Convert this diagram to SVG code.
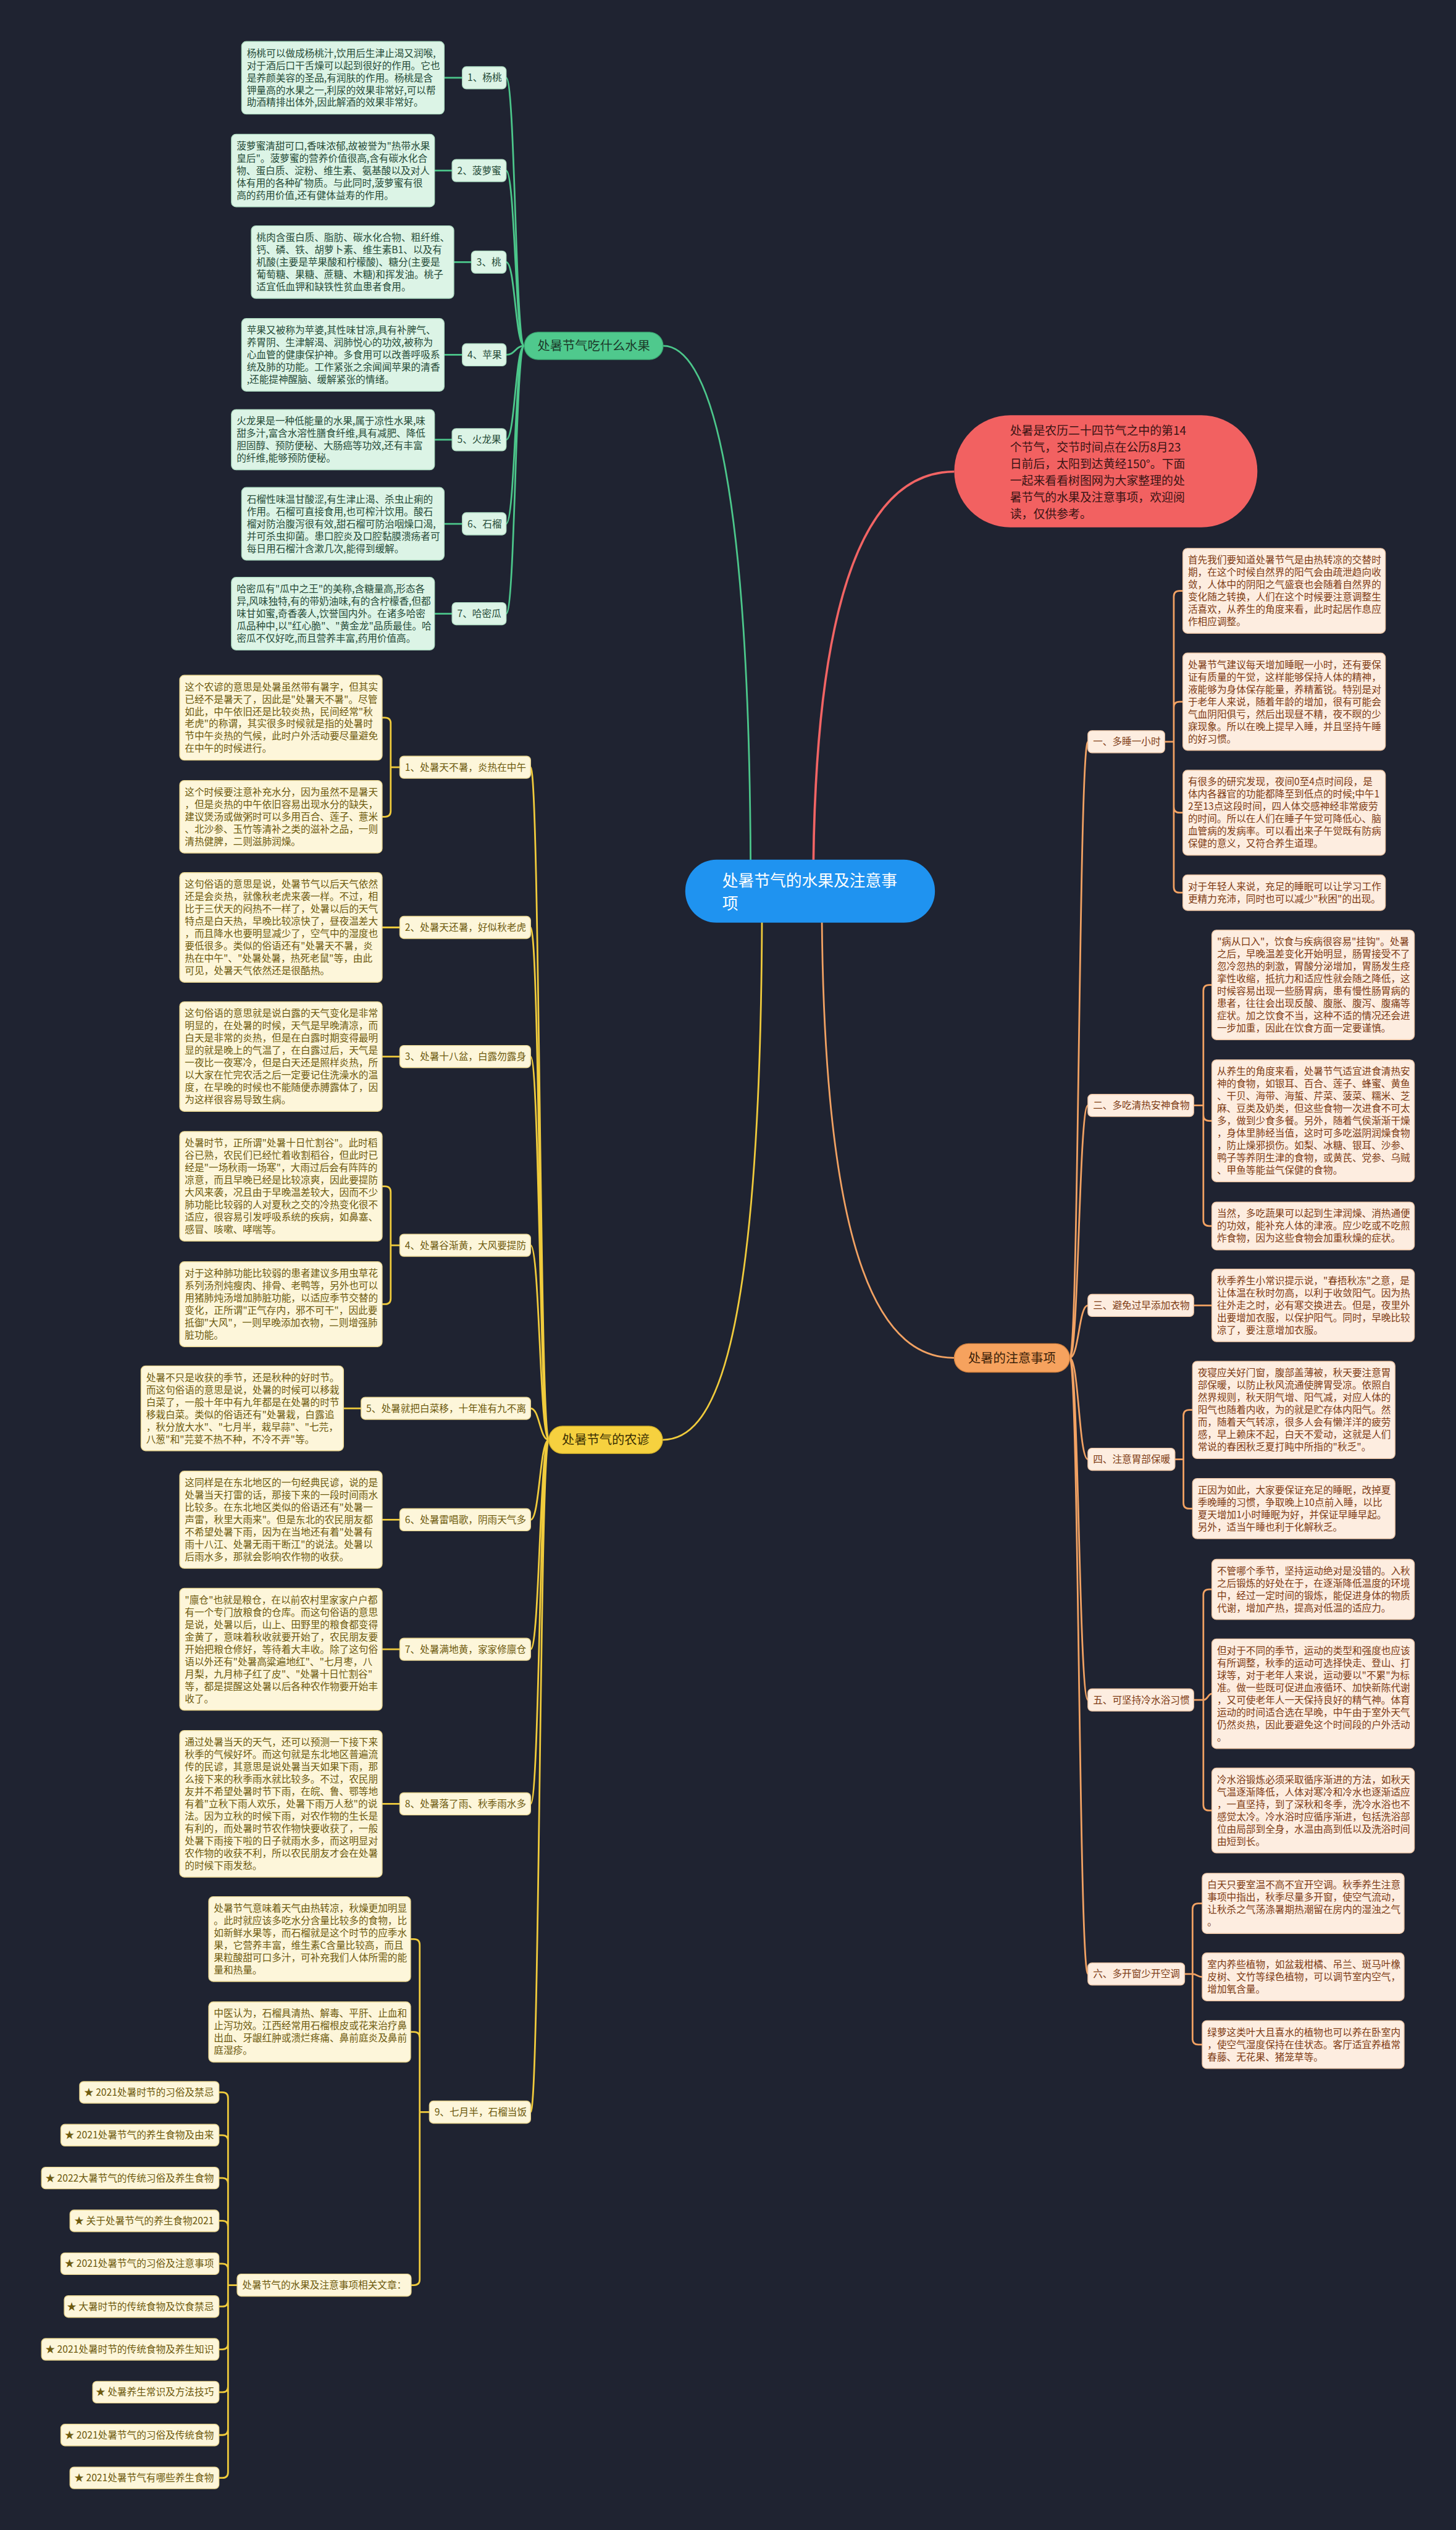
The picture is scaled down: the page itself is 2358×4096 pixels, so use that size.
<svg xmlns="http://www.w3.org/2000/svg" width="2358" height="4096" viewBox="0 0 2358 4096">
<style>
.t{font-family:"Noto Sans CJK SC","Noto Sans",sans-serif;font-size:17px}
.gb{fill:#dcf4e6;stroke:#b3e0c6;stroke-width:1.5}
.gt{fill:#264b38}
.yb{fill:#fdf6da;stroke:#e9d690;stroke-width:1.5}
.yt{fill:#6d5a0e}
.ob{fill:#fdede0;stroke:#efc7a6;stroke-width:1.5}
.ot{fill:#7d3b14}
.gc{fill:none;stroke:#4cc78b;stroke-width:3}
.yc{fill:none;stroke:#f0cb3c;stroke-width:3}
.oc{fill:none;stroke:#f2a263;stroke-width:3}
.rc{fill:none;stroke:#f26464;stroke-width:4}
.main{font-family:"Noto Sans CJK SC","Noto Sans",sans-serif;font-size:22px}
</style>
<rect width="2358" height="4096" fill="#1f2331"/>
<g transform="scale(0.921)">
<g id="connectors">
<path class="gc" stroke-width="4" d="M1320,1566 C1320,800 1240,608 1166,608"/>
<path class="rc" d="M1430,1566 C1430,1000 1540,829 1678,829"/>
<path class="oc" stroke-width="4" d="M1445,1566 C1445,2250 1560,2387 1678,2387"/>
<path class="yc" stroke-width="4" d="M1340,1566 C1340,2400 1250,2531 1165,2531"/>
<path class="gc" d="M922,608 C906,608 906,136.75 890,136.75 M922,608 C906,608 906,299.75 890,299.75 M922,608 C906,608 906,460.75 890,460.75 M922,608 C906,608 906,623.75 890,623.75 M922,608 C906,608 906,772.9 890,772.9 M922,608 C906,608 906,920.75 890,920.75 M922,608 C906,608 906,1078.75 890,1078.75"/>
<path class="gc" d="M781,136.75 H813 M764,299.75 H795 M798,460.75 H829 M781,623.75 H813 M764,772.9 H795 M781,920.75 H813 M764,1078.75 H795"/>
<path class="yc" d="M965,2531 C949,2531 949,1348.7 933,1348.7 M965,2531 C949,2531 949,1630.3 933,1630.3 M965,2531 C949,2531 949,1857.3 933,1857.3 M965,2531 C949,2531 949,2189 933,2189 M965,2531 C949,2531 949,2475.6 933,2475.6 M965,2531 C949,2531 949,2671.5 933,2671.5 M965,2531 C949,2531 949,2899.2 933,2899.2 M965,2531 C949,2531 949,3170.9 933,3170.9 M965,2531 C949,2531 949,3712.8 933,3712.8"/>
<path class="yc" d="M703,1348.7 H687 V1271.6 Q687,1261.6 677,1261.6 H672 M687,1348.7 V1425.75 Q687,1435.75 677,1435.75 H672 M703,1630.3 H672 M703,1857.3 H672 M703,2189 H687 V2095.3 Q687,2085.3 677,2085.3 H672 M687,2189 V2282.6 Q687,2292.6 677,2292.6 H672 M635,2475.6 H604 M703,2671.5 H672 M703,2899.2 H672 M703,3170.9 H672 M755,3712.8 H738 V3418.6 Q738,3408.6 728,3408.6 H722 M738,3712.8 V3581.9 Q738,3571.9 728,3571.9 H722 M738,3712.8 V4006.9 Q738,4016.9 728,4016.9 H723"/>
<path class="yc" d="M417,4016.9 H401 V3688 Q401,3678 391,3678 H385 M401,4016.9 V3763.3 Q401,3753.3 391,3753.3 H385 M401,4016.9 V3838.6 Q401,3828.6 391,3828.6 H385 M401,4016.9 V3913.9 Q401,3903.9 391,3903.9 H385 M401,4016.9 V3989.2 Q401,3979.2 391,3979.2 H385 M401,4016.9 V4044.5 Q401,4054.5 391,4054.5 H385 M401,4016.9 V4119.8 Q401,4129.8 391,4129.8 H385 M401,4016.9 V4195.1 Q401,4205.1 391,4205.1 H385 M401,4016.9 V4270.4 Q401,4280.4 391,4280.4 H385 M401,4016.9 V4345.7 Q401,4355.7 391,4355.7 H385"/>
<path class="oc" d="M1881,2387 C1897,2387 1897,1303.9 1913,1303.9 M1881,2387 C1897,2387 1897,1943.2 1913,1943.2 M1881,2387 C1897,2387 1897,2294.75 1913,2294.75 M1881,2387 C1897,2387 1897,2565.2 1913,2565.2 M1881,2387 C1897,2387 1897,2988.25 1913,2988.25 M1881,2387 C1897,2387 1897,3470 1913,3470"/>
<path class="oc" d="M2048,1303.9 H2064 V1048.6 Q2064,1038.6 2074,1038.6 H2080 M2064,1303.9 V1243.45 Q2064,1233.45 2074,1233.45 H2080 M2064,1303.9 V1418.6 Q2064,1428.6 2074,1428.6 H2080 M2064,1303.9 V1559.2 Q2064,1569.2 2074,1569.2 H2080"/>
<path class="oc" d="M2099,1943.2 H2116 V1741.3 Q2116,1731.3 2126,1731.3 H2131 M2116,1943.2 V1960.15 Q2116,1970.15 2126,1970.15 H2131 M2116,1943.2 V2145.05 Q2116,2155.05 2126,2155.05 H2131"/>
<path class="oc" d="M2099,2294.75 H2131"/>
<path class="oc" d="M2066,2565.2 H2081 V2488.45 Q2081,2478.45 2091,2478.45 H2097 M2081,2565.2 V2641.9 Q2081,2651.9 2091,2651.9 H2097"/>
<path class="oc" d="M2099,2988.25 H2116 V2803.9 Q2116,2793.9 2126,2793.9 H2131 M2116,2988.25 C2124,2988.25 2124,2977.3 2131,2977.3 M2116,2988.25 V3172.6 Q2116,3182.6 2126,3182.6 H2131"/>
<path class="oc" d="M2083,3470 H2097 V3355.9 Q2097,3345.9 2107,3345.9 H2114 M2097,3470 C2105,3470 2105,3475.05 2114,3475.05 M2097,3470 V3584.05 Q2097,3594.05 2107,3594.05 H2114"/>
</g>

<g id="root"><rect x="1205" y="1511" width="439" height="111" rx="55" fill="#1f93f0"/><text class="t" font-size="28" fill="#ffffff" x="1270" y="1558" style="font-size:28px"><tspan x="1270">处暑节气的水果及注意事</tspan><tspan x="1270" dy="40">项</tspan></text></g>

<g id="intro"><rect x="1678" y="730" width="533" height="197" rx="98.5" fill="#f26161"/><text class="t" fill="#3a1414" x="1776" y="764.4" style="font-size:20.5px"><tspan x="1776">处暑是农历二十四节气之中的第14</tspan><tspan x="1776" dy="29.3">个节气，交节时间点在公历8月23</tspan><tspan x="1776" dy="29.3">日前后，太阳到达黄经150°。下面</tspan><tspan x="1776" dy="29.3">一起来看看树图网为大家整理的处</tspan><tspan x="1776" dy="29.3">暑节气的水果及注意事项，欢迎阅</tspan><tspan x="1776" dy="29.3">读，仅供参考。</tspan></text></g>

<!-- GREEN -->
<g id="fruit"><rect x="922" y="584" width="244" height="48" rx="24" fill="#4fc98d" stroke="#3aa872" stroke-width="1.5"/><text class="main" fill="#1b3a2a" x="1044" y="616" text-anchor="middle">处暑节气吃什么水果</text></g>
<g id="g-l1"><rect class="gb" x="813" y="117.25" width="77" height="39" rx="7"/><text class="t gt" x="822" y="142.75">1、杨桃</text></g>
<g id="g-l2"><rect class="gb" x="795" y="280.25" width="95" height="39" rx="7"/><text class="t gt" x="804" y="305.75">2、菠萝蜜</text></g>
<g id="g-l3"><rect class="gb" x="829" y="441.25" width="61" height="39" rx="7"/><text class="t gt" x="838" y="466.75">3、桃</text></g>
<g id="g-l4"><rect class="gb" x="813" y="604.25" width="77" height="39" rx="7"/><text class="t gt" x="822" y="629.75">4、苹果</text></g>
<g id="g-l5"><rect class="gb" x="795" y="753.4" width="95" height="39" rx="7"/><text class="t gt" x="804" y="778.9">5、火龙果</text></g>
<g id="g-l6"><rect class="gb" x="813" y="901.25" width="77" height="39" rx="7"/><text class="t gt" x="822" y="926.75">6、石榴</text></g>
<g id="g-l7"><rect class="gb" x="795" y="1059.25" width="95" height="39" rx="7"/><text class="t gt" x="804" y="1084.75">7、哈密瓜</text></g>
<g id="g-d1"><rect class="gb" x="425" y="73" width="356" height="127.5" rx="8"/><text class="t gt" x="434" y="99.4"><tspan x="434">杨桃可以做成杨桃汁,饮用后生津止渴又润喉,</tspan><tspan x="434" dy="21.7">对于酒后口干舌燥可以起到很好的作用。它也</tspan><tspan x="434" dy="21.7">是养颜美容的圣品,有润肤的作用。杨桃是含</tspan><tspan x="434" dy="21.7">钾量高的水果之一,利尿的效果非常好,可以帮</tspan><tspan x="434" dy="21.7">助酒精排出体外,因此解酒的效果非常好。</tspan></text></g>
<g id="g-d2"><rect class="gb" x="407" y="236" width="357" height="127.5" rx="8"/><text class="t gt" x="416" y="262.4"><tspan x="416">菠萝蜜清甜可口,香味浓郁,故被誉为"热带水果</tspan><tspan x="416" dy="21.7">皇后"。菠萝蜜的营养价值很高,含有碳水化合</tspan><tspan x="416" dy="21.7">物、蛋白质、淀粉、维生素、氨基酸以及对人</tspan><tspan x="416" dy="21.7">体有用的各种矿物质。与此同时,菠萝蜜有很</tspan><tspan x="416" dy="21.7">高的药用价值,还有健体益寿的作用。</tspan></text></g>
<g id="g-d3"><rect class="gb" x="442" y="397" width="356" height="127.5" rx="8"/><text class="t gt" x="451" y="423.4"><tspan x="451">桃肉含蛋白质、脂肪、碳水化合物、粗纤维、</tspan><tspan x="451" dy="21.7">钙、磷、铁、胡萝卜素、维生素B1、以及有</tspan><tspan x="451" dy="21.7">机酸(主要是苹果酸和柠檬酸)、糖分(主要是</tspan><tspan x="451" dy="21.7">葡萄糖、果糖、蔗糖、木糖)和挥发油。桃子</tspan><tspan x="451" dy="21.7">适宜低血钾和缺铁性贫血患者食用。</tspan></text></g>
<g id="g-d4"><rect class="gb" x="425" y="560" width="356" height="127.5" rx="8"/><text class="t gt" x="434" y="586.4"><tspan x="434">苹果又被称为苹婆,其性味甘凉,具有补脾气、</tspan><tspan x="434" dy="21.7">养胃阴、生津解渴、润肺悦心的功效,被称为</tspan><tspan x="434" dy="21.7">心血管的健康保护神。多食用可以改善呼吸系</tspan><tspan x="434" dy="21.7">统及肺的功能。工作紧张之余闻闻苹果的清香</tspan><tspan x="434" dy="21.7">,还能提神醒脑、缓解紧张的情绪。</tspan></text></g>
<g id="g-d5"><rect class="gb" x="407" y="720" width="357" height="105.8" rx="8"/><text class="t gt" x="416" y="746.4"><tspan x="416">火龙果是一种低能量的水果,属于凉性水果,味</tspan><tspan x="416" dy="21.7">甜多汁,富含水溶性膳食纤维,具有减肥、降低</tspan><tspan x="416" dy="21.7">胆固醇、预防便秘、大肠癌等功效,还有丰富</tspan><tspan x="416" dy="21.7">的纤维,能够预防便秘。</tspan></text></g>
<g id="g-d6"><rect class="gb" x="425" y="857" width="356" height="127.5" rx="8"/><text class="t gt" x="434" y="883.4"><tspan x="434">石榴性味温甘酸涩,有生津止渴、杀虫止痢的</tspan><tspan x="434" dy="21.7">作用。石榴可直接食用,也可榨汁饮用。酸石</tspan><tspan x="434" dy="21.7">榴对防治腹泻很有效,甜石榴可防治咽燥口渴,</tspan><tspan x="434" dy="21.7">并可杀虫抑菌。患口腔炎及口腔黏膜溃疡者可</tspan><tspan x="434" dy="21.7">每日用石榴汁含漱几次,能得到缓解。</tspan></text></g>
<g id="g-d7"><rect class="gb" x="407" y="1015" width="357" height="127.5" rx="8"/><text class="t gt" x="416" y="1041.4"><tspan x="416">哈密瓜有"瓜中之王"的美称,含糖量高,形态各</tspan><tspan x="416" dy="21.7">异,风味独特,有的带奶油味,有的含柠檬香,但都</tspan><tspan x="416" dy="21.7">味甘如蜜,奇香袭人,饮誉国内外。在诸多哈密</tspan><tspan x="416" dy="21.7">瓜品种中,以"红心脆"、"黄金龙"品质最佳。哈</tspan><tspan x="416" dy="21.7">密瓜不仅好吃,而且营养丰富,药用价值高。</tspan></text></g>

<!-- YELLOW -->
<g id="proverbs"><rect x="965" y="2507" width="200" height="48" rx="24" fill="#f6d13f" stroke="#d8b52a" stroke-width="1.5"/><text class="main" fill="#3b3003" x="1065" y="2539" text-anchor="middle">处暑节气的农谚</text></g>
<g id="y-l1"><rect class="yb" x="703" y="1329.2" width="230" height="39" rx="7"/><text class="t yt" x="712" y="1354.7">1、处暑天不暑，炎热在中午</text></g>
<g id="y-l2"><rect class="yb" x="703" y="1610.8" width="230" height="39" rx="7"/><text class="t yt" x="712" y="1636.3">2、处暑天还暑，好似秋老虎</text></g>
<g id="y-l3"><rect class="yb" x="703" y="1837.8" width="230" height="39" rx="7"/><text class="t yt" x="712" y="1863.3">3、处暑十八盆，白露勿露身</text></g>
<g id="y-l4"><rect class="yb" x="703" y="2169.5" width="230" height="39" rx="7"/><text class="t yt" x="712" y="2195">4、处暑谷渐黄，大风要提防</text></g>
<g id="y-l5"><rect class="yb" x="635" y="2456.1" width="298" height="39" rx="7"/><text class="t yt" x="644" y="2481.6">5、处暑就把白菜移，十年准有九不离</text></g>
<g id="y-l6"><rect class="yb" x="703" y="2652" width="230" height="39" rx="7"/><text class="t yt" x="712" y="2677.5">6、处暑雷唱歌，阴雨天气多</text></g>
<g id="y-l7"><rect class="yb" x="703" y="2879.7" width="230" height="39" rx="7"/><text class="t yt" x="712" y="2905.2">7、处暑满地黄，家家修廪仓</text></g>
<g id="y-l8"><rect class="yb" x="703" y="3151.4" width="230" height="39" rx="7"/><text class="t yt" x="712" y="3176.9">8、处暑落了雨、秋季雨水多</text></g>
<g id="y-l9"><rect class="yb" x="755" y="3693.3" width="178" height="39" rx="7"/><text class="t yt" x="764" y="3718.8">9、七月半，石榴当饭</text></g>
<g id="y-d1a"><rect class="yb" x="316" y="1187" width="356" height="149.2" rx="8"/><text class="t yt" x="325" y="1213.4"><tspan x="325">这个农谚的意思是处暑虽然带有暑字，但其实</tspan><tspan x="325" dy="21.7">已经不是暑天了，因此是"处暑天不暑"。尽管</tspan><tspan x="325" dy="21.7">如此，中午依旧还是比较炎热，民间经常"秋</tspan><tspan x="325" dy="21.7">老虎"的称谓，其实很多时候就是指的处暑时</tspan><tspan x="325" dy="21.7">节中午炎热的气候，此时户外活动要尽量避免</tspan><tspan x="325" dy="21.7">在中午的时候进行。</tspan></text></g>
<g id="y-d1b"><rect class="yb" x="316" y="1372" width="356" height="127.5" rx="8"/><text class="t yt" x="325" y="1398.4"><tspan x="325">这个时候要注意补充水分，因为虽然不是暑天</tspan><tspan x="325" dy="21.7">，但是炎热的中午依旧容易出现水分的缺失，</tspan><tspan x="325" dy="21.7">建议煲汤或做粥时可以多用百合、莲子、薏米</tspan><tspan x="325" dy="21.7">、北沙参、玉竹等清补之类的滋补之品，一则</tspan><tspan x="325" dy="21.7">清热健脾，二则滋肺润燥。</tspan></text></g>
<g id="y-d2"><rect class="yb" x="316" y="1534" width="356" height="192.6" rx="8"/><text class="t yt" x="325" y="1560.4"><tspan x="325">这句俗语的意思是说，处暑节气以后天气依然</tspan><tspan x="325" dy="21.7">还是会炎热，就像秋老虎来袭一样。不过，相</tspan><tspan x="325" dy="21.7">比于三伏天的闷热不一样了，处暑以后的天气</tspan><tspan x="325" dy="21.7">特点是白天热，早晚比较凉快了，昼夜温差大</tspan><tspan x="325" dy="21.7">，而且降水也要明显减少了，空气中的湿度也</tspan><tspan x="325" dy="21.7">要低很多。类似的俗语还有"处暑天不暑，炎</tspan><tspan x="325" dy="21.7">热在中午"、"处暑处暑，热死老鼠"等，由此</tspan><tspan x="325" dy="21.7">可见，处暑天气依然还是很酷热。</tspan></text></g>
<g id="y-d3"><rect class="yb" x="316" y="1761" width="356" height="192.6" rx="8"/><text class="t yt" x="325" y="1787.4"><tspan x="325">这句俗语的意思就是说白露的天气变化是非常</tspan><tspan x="325" dy="21.7">明显的，在处暑的时候，天气是早晚清凉，而</tspan><tspan x="325" dy="21.7">白天是非常的炎热，但是在白露时期变得最明</tspan><tspan x="325" dy="21.7">显的就是晚上的气温了，在白露过后，天气是</tspan><tspan x="325" dy="21.7">一夜比一夜寒冷，但是白天还是照样炎热，所</tspan><tspan x="325" dy="21.7">以大家在忙完农活之后一定要记住洗澡水的温</tspan><tspan x="325" dy="21.7">度，在早晚的时候也不能随便赤膊露体了，因</tspan><tspan x="325" dy="21.7">为这样很容易导致生病。</tspan></text></g>
<g id="y-d4a"><rect class="yb" x="316" y="1989" width="356" height="192.6" rx="8"/><text class="t yt" x="325" y="2015.4"><tspan x="325">处暑时节，正所谓"处暑十日忙割谷"。此时稻</tspan><tspan x="325" dy="21.7">谷已熟，农民们已经忙着收割稻谷，但此时已</tspan><tspan x="325" dy="21.7">经是"一场秋雨一场寒"，大雨过后会有阵阵的</tspan><tspan x="325" dy="21.7">凉意，而且早晚已经是比较凉爽，因此要提防</tspan><tspan x="325" dy="21.7">大风来袭，况且由于早晚温差较大，因而不少</tspan><tspan x="325" dy="21.7">肺功能比较弱的人对夏秋之交的冷热变化很不</tspan><tspan x="325" dy="21.7">适应，很容易引发呼吸系统的疾病，如鼻塞、</tspan><tspan x="325" dy="21.7">感冒、咳嗽、哮喘等。</tspan></text></g>
<g id="y-d4b"><rect class="yb" x="316" y="2218" width="356" height="149.2" rx="8"/><text class="t yt" x="325" y="2244.4"><tspan x="325">对于这种肺功能比较弱的患者建议多用虫草花</tspan><tspan x="325" dy="21.7">系列汤剂炖瘦肉、排骨、老鸭等，另外也可以</tspan><tspan x="325" dy="21.7">用猪肺炖汤增加肺脏功能，以适应季节交替的</tspan><tspan x="325" dy="21.7">变化，正所谓"正气存内，邪不可干"，因此要</tspan><tspan x="325" dy="21.7">抵御"大风"，一则早晚添加衣物，二则增强肺</tspan><tspan x="325" dy="21.7">脏功能。</tspan></text></g>
<g id="y-d5"><rect class="yb" x="248" y="2401" width="356" height="149.2" rx="8"/><text class="t yt" x="257" y="2427.4"><tspan x="257">处暑不只是收获的季节，还是秋种的好时节。</tspan><tspan x="257" dy="21.7">而这句俗语的意思是说，处暑的时候可以移栽</tspan><tspan x="257" dy="21.7">白菜了，一般十年中有九年都是在处暑的时节</tspan><tspan x="257" dy="21.7">移栽白菜。类似的俗语还有"处暑栽，白露追</tspan><tspan x="257" dy="21.7">，秋分放大水"、"七月半，栽早蒜"、"七芫，</tspan><tspan x="257" dy="21.7">八葱"和"芫荽不热不种，不冷不弄"等。</tspan></text></g>
<g id="y-d6"><rect class="yb" x="316" y="2586" width="356" height="170.9" rx="8"/><text class="t yt" x="325" y="2612.4"><tspan x="325">这同样是在东北地区的一句经典民谚，说的是</tspan><tspan x="325" dy="21.7">处暑当天打雷的话，那接下来的一段时间雨水</tspan><tspan x="325" dy="21.7">比较多。在东北地区类似的俗语还有"处暑一</tspan><tspan x="325" dy="21.7">声雷，秋里大雨来"。但是东北的农民朋友都</tspan><tspan x="325" dy="21.7">不希望处暑下雨，因为在当地还有着"处暑有</tspan><tspan x="325" dy="21.7">雨十八江、处暑无雨干断江"的说法。处暑以</tspan><tspan x="325" dy="21.7">后雨水多，那就会影响农作物的收获。</tspan></text></g>
<g id="y-d7"><rect class="yb" x="316" y="2792" width="356" height="214.3" rx="8"/><text class="t yt" x="325" y="2818.4"><tspan x="325">"廪仓"也就是粮仓，在以前农村里家家户户都</tspan><tspan x="325" dy="21.7">有一个专门放粮食的仓库。而这句俗语的意思</tspan><tspan x="325" dy="21.7">是说，处暑以后，山上、田野里的粮食都变得</tspan><tspan x="325" dy="21.7">金黄了，意味着秋收就要开始了，农民朋友要</tspan><tspan x="325" dy="21.7">开始把粮仓修好，等待着大丰收。除了这句俗</tspan><tspan x="325" dy="21.7">语以外还有"处暑高粱遍地红"、"七月枣，八</tspan><tspan x="325" dy="21.7">月梨，九月柿子红了皮"、"处暑十日忙割谷"</tspan><tspan x="325" dy="21.7">等，都是提醒这处暑以后各种农作物要开始丰</tspan><tspan x="325" dy="21.7">收了。</tspan></text></g>
<g id="y-d8"><rect class="yb" x="316" y="3042" width="356" height="257.7" rx="8"/><text class="t yt" x="325" y="3068.4"><tspan x="325">通过处暑当天的天气，还可以预测一下接下来</tspan><tspan x="325" dy="21.7">秋季的气候好坏。而这句就是东北地区普遍流</tspan><tspan x="325" dy="21.7">传的民谚，其意思是说处暑当天如果下雨，那</tspan><tspan x="325" dy="21.7">么接下来的秋季雨水就比较多。不过，农民朋</tspan><tspan x="325" dy="21.7">友并不希望处暑时节下雨，在皖、鲁、鄂等地</tspan><tspan x="325" dy="21.7">有着"立秋下雨人欢乐，处暑下雨万人愁"的说</tspan><tspan x="325" dy="21.7">法。因为立秋的时候下雨，对农作物的生长是</tspan><tspan x="325" dy="21.7">有利的，而处暑时节农作物快要收获了，一般</tspan><tspan x="325" dy="21.7">处暑下雨接下啦的日子就雨水多，而这明显对</tspan><tspan x="325" dy="21.7">农作物的收获不利，所以农民朋友才会在处暑</tspan><tspan x="325" dy="21.7">的时候下雨发愁。</tspan></text></g>
<g id="y-d9a"><rect class="yb" x="367" y="3334" width="355" height="149.2" rx="8"/><text class="t yt" x="376" y="3360.4"><tspan x="376">处暑节气意味着天气由热转凉，秋燥更加明显</tspan><tspan x="376" dy="21.7">。此时就应该多吃水分含量比较多的食物，比</tspan><tspan x="376" dy="21.7">如新鲜水果等，而石榴就是这个时节的应季水</tspan><tspan x="376" dy="21.7">果，它营养丰富，维生素C含量比较高，而且</tspan><tspan x="376" dy="21.7">果粒酸甜可口多汁，可补充我们人体所需的能</tspan><tspan x="376" dy="21.7">量和热量。</tspan></text></g>
<g id="y-d9b"><rect class="yb" x="367" y="3519" width="355" height="105.8" rx="8"/><text class="t yt" x="376" y="3545.4"><tspan x="376">中医认为，石榴具清热、解毒、平肝、止血和</tspan><tspan x="376" dy="21.7">止泻功效。江西经常用石榴根皮或花来治疗鼻</tspan><tspan x="376" dy="21.7">出血、牙龈红肿或溃烂疼痛、鼻前庭炎及鼻前</tspan><tspan x="376" dy="21.7">庭湿疹。</tspan></text></g>
<g id="related"><rect class="yb" x="417" y="3997.4" width="306" height="39" rx="7"/><text class="t yt" x="426" y="4022.9">处暑节气的水果及注意事项相关文章：</text></g>
<g id="r1"><rect class="yb" x="140" y="3659" width="245" height="38" rx="7"/><text class="t yt" x="376" y="3684" text-anchor="end">★ 2021处暑时节的习俗及禁忌</text></g>
<g id="r2"><rect class="yb" x="107" y="3734.3" width="278" height="38" rx="7"/><text class="t yt" x="376" y="3759.3" text-anchor="end">★ 2021处暑节气的养生食物及由来</text></g>
<g id="r3"><rect class="yb" x="73" y="3809.6" width="312" height="38" rx="7"/><text class="t yt" x="376" y="3834.6" text-anchor="end">★ 2022大暑节气的传统习俗及养生食物</text></g>
<g id="r4"><rect class="yb" x="123" y="3884.9" width="262" height="38" rx="7"/><text class="t yt" x="376" y="3909.9" text-anchor="end">★ 关于处暑节气的养生食物2021</text></g>
<g id="r5"><rect class="yb" x="107" y="3960.2" width="278" height="38" rx="7"/><text class="t yt" x="376" y="3985.2" text-anchor="end">★ 2021处暑节气的习俗及注意事项</text></g>
<g id="r6"><rect class="yb" x="113" y="4035.5" width="272" height="38" rx="7"/><text class="t yt" x="376" y="4060.5" text-anchor="end">★ 大暑时节的传统食物及饮食禁忌</text></g>
<g id="r7"><rect class="yb" x="73" y="4110.8" width="312" height="38" rx="7"/><text class="t yt" x="376" y="4135.8" text-anchor="end">★ 2021处暑时节的传统食物及养生知识</text></g>
<g id="r8"><rect class="yb" x="163" y="4186.1" width="222" height="38" rx="7"/><text class="t yt" x="376" y="4211.1" text-anchor="end">★ 处暑养生常识及方法技巧</text></g>
<g id="r9"><rect class="yb" x="107" y="4261.4" width="278" height="38" rx="7"/><text class="t yt" x="376" y="4286.4" text-anchor="end">★ 2021处暑节气的习俗及传统食物</text></g>
<g id="r10"><rect class="yb" x="123" y="4336.7" width="262" height="38" rx="7"/><text class="t yt" x="376" y="4361.7" text-anchor="end">★ 2021处暑节气有哪些养生食物</text></g>

<!-- ORANGE -->
<g id="notes"><rect x="1678" y="2362" width="203" height="50" rx="25" fill="#f6a25e" stroke="#d8843f" stroke-width="1.5"/><text class="main" fill="#3a1e08" x="1779.5" y="2395" text-anchor="middle">处暑的注意事项</text></g>
<g id="o-l1"><rect class="ob" x="1913" y="1284.4" width="135" height="39" rx="7"/><text class="t ot" x="1922" y="1309.9">一、多睡一小时</text></g>
<g id="o-l2"><rect class="ob" x="1913" y="1923.7" width="186" height="39" rx="7"/><text class="t ot" x="1922" y="1949.2">二、多吃清热安神食物</text></g>
<g id="o-l3"><rect class="ob" x="1913" y="2275.25" width="186" height="39" rx="7"/><text class="t ot" x="1922" y="2300.75">三、避免过早添加衣物</text></g>
<g id="o-l4"><rect class="ob" x="1913" y="2545.7" width="153" height="39" rx="7"/><text class="t ot" x="1922" y="2571.2">四、注意胃部保暖</text></g>
<g id="o-l5"><rect class="ob" x="1913" y="2968.75" width="186" height="39" rx="7"/><text class="t ot" x="1922" y="2994.25">五、可坚持冷水浴习惯</text></g>
<g id="o-l6"><rect class="ob" x="1913" y="3450.5" width="170" height="39" rx="7"/><text class="t ot" x="1922" y="3476">六、多开窗少开空调</text></g>
<g id="o-d1a"><rect class="ob" x="2080" y="964" width="356" height="149.2" rx="8"/><text class="t ot" x="2089" y="990.4"><tspan x="2089">首先我们要知道处暑节气是由热转凉的交替时</tspan><tspan x="2089" dy="21.7">期，在这个时候自然界的阳气会由疏泄趋向收</tspan><tspan x="2089" dy="21.7">敛，人体中的阴阳之气盛衰也会随着自然界的</tspan><tspan x="2089" dy="21.7">变化随之转换，人们在这个时候要注意调整生</tspan><tspan x="2089" dy="21.7">活喜欢，从养生的角度来看，此时起居作息应</tspan><tspan x="2089" dy="21.7">作相应调整。</tspan></text></g>
<g id="o-d1b"><rect class="ob" x="2080" y="1148" width="356" height="170.9" rx="8"/><text class="t ot" x="2089" y="1174.4"><tspan x="2089">处暑节气建议每天增加睡眠一小时，还有要保</tspan><tspan x="2089" dy="21.7">证有质量的午觉，这样能够保持人体的精神，</tspan><tspan x="2089" dy="21.7">液能够为身体保存能量，养精蓄锐。特别是对</tspan><tspan x="2089" dy="21.7">于老年人来说，随着年龄的增加，很有可能会</tspan><tspan x="2089" dy="21.7">气血阴阳俱亏，然后出现昼不精，夜不瞑的少</tspan><tspan x="2089" dy="21.7">寐现象。所以在晚上提早入睡，并且坚持午睡</tspan><tspan x="2089" dy="21.7">的好习惯。</tspan></text></g>
<g id="o-d1c"><rect class="ob" x="2080" y="1354" width="356" height="149.2" rx="8"/><text class="t ot" x="2089" y="1380.4"><tspan x="2089">有很多的研究发现，夜间0至4点时间段，是</tspan><tspan x="2089" dy="21.7">体内各器官的功能都降至到低点的时候;中午1</tspan><tspan x="2089" dy="21.7">2至13点这段时间，四人体交感神经非常疲劳</tspan><tspan x="2089" dy="21.7">的时间。所以在人们在睡子午觉可降低心、脑</tspan><tspan x="2089" dy="21.7">血管病的发病率。可以看出来子午觉既有防病</tspan><tspan x="2089" dy="21.7">保健的意义，又符合养生道理。</tspan></text></g>
<g id="o-d1d"><rect class="ob" x="2080" y="1538" width="356" height="62.4" rx="8"/><text class="t ot" x="2089" y="1564.4"><tspan x="2089">对于年轻人来说，充足的睡眠可以让学习工作</tspan><tspan x="2089" dy="21.7">更精力充沛，同时也可以减少"秋困"的出现。</tspan></text></g>
<g id="o-d2a"><rect class="ob" x="2131" y="1635" width="356" height="192.6" rx="8"/><text class="t ot" x="2140" y="1661.4"><tspan x="2140">"病从口入"，饮食与疾病很容易"挂钩"。处暑</tspan><tspan x="2140" dy="21.7">之后，早晚温差变化开始明显，肠胃接受不了</tspan><tspan x="2140" dy="21.7">忽冷忽热的刺激，胃酸分泌增加，胃肠发生痉</tspan><tspan x="2140" dy="21.7">挛性收缩，抵抗力和适应性就会随之降低，这</tspan><tspan x="2140" dy="21.7">时候容易出现一些肠胃病，患有慢性肠胃病的</tspan><tspan x="2140" dy="21.7">患者，往往会出现反酸、腹胀、腹泻、腹痛等</tspan><tspan x="2140" dy="21.7">症状。加之饮食不当，这种不适的情况还会进</tspan><tspan x="2140" dy="21.7">一步加重，因此在饮食方面一定要谨慎。</tspan></text></g>
<g id="o-d2b"><rect class="ob" x="2131" y="1863" width="356" height="214.3" rx="8"/><text class="t ot" x="2140" y="1889.4"><tspan x="2140">从养生的角度来看，处暑节气适宜进食清热安</tspan><tspan x="2140" dy="21.7">神的食物，如银耳、百合、莲子、蜂蜜、黄鱼</tspan><tspan x="2140" dy="21.7">、干贝、海带、海蜇、芹菜、菠菜、糯米、芝</tspan><tspan x="2140" dy="21.7">麻、豆类及奶类，但这些食物一次进食不可太</tspan><tspan x="2140" dy="21.7">多，做到少食多餐。另外，随着气侯渐渐干燥</tspan><tspan x="2140" dy="21.7">，身体里肺经当值，这时可多吃滋阴润燥食物</tspan><tspan x="2140" dy="21.7">，防止燥邪损伤。如梨、冰糖、银耳、沙参、</tspan><tspan x="2140" dy="21.7">鸭子等养阴生津的食物，或黄芪、党参、乌贼</tspan><tspan x="2140" dy="21.7">、甲鱼等能益气保健的食物。</tspan></text></g>
<g id="o-d2c"><rect class="ob" x="2131" y="2113" width="356" height="84.1" rx="8"/><text class="t ot" x="2140" y="2139.4"><tspan x="2140">当然，多吃蔬果可以起到生津润燥、消热通便</tspan><tspan x="2140" dy="21.7">的功效，能补充人体的津液。应少吃或不吃煎</tspan><tspan x="2140" dy="21.7">炸食物，因为这些食物会加重秋燥的症状。</tspan></text></g>
<g id="o-d3"><rect class="ob" x="2131" y="2231" width="356" height="127.5" rx="8"/><text class="t ot" x="2140" y="2257.4"><tspan x="2140">秋季养生小常识提示说，"春捂秋冻"之意，是</tspan><tspan x="2140" dy="21.7">让体温在秋时勿高，以利于收敛阳气。因为热</tspan><tspan x="2140" dy="21.7">往外走之时，必有寒交换进去。但是，夜里外</tspan><tspan x="2140" dy="21.7">出要增加衣服，以保护阳气。同时，早晚比较</tspan><tspan x="2140" dy="21.7">凉了，要注意增加衣服。</tspan></text></g>
<g id="o-d4a"><rect class="ob" x="2097" y="2393" width="356" height="170.9" rx="8"/><text class="t ot" x="2106" y="2419.4"><tspan x="2106">夜寝应关好门窗，腹部盖薄被，秋天要注意胃</tspan><tspan x="2106" dy="21.7">部保暖，以防止秋风流通使脾胃受凉。依照自</tspan><tspan x="2106" dy="21.7">然界规则，秋天阴气增、阳气减，对应人体的</tspan><tspan x="2106" dy="21.7">阳气也随着内收，为的就是贮存体内阳气。然</tspan><tspan x="2106" dy="21.7">而，随着天气转凉，很多人会有懒洋洋的疲劳</tspan><tspan x="2106" dy="21.7">感，早上赖床不起，白天不爱动，这就是人们</tspan><tspan x="2106" dy="21.7">常说的春困秋乏夏打盹中所指的"秋乏"。</tspan></text></g>
<g id="o-d4b"><rect class="ob" x="2097" y="2599" width="356" height="105.8" rx="8"/><text class="t ot" x="2106" y="2625.4"><tspan x="2106">正因为如此，大家要保证充足的睡眠，改掉夏</tspan><tspan x="2106" dy="21.7">季晚睡的习惯，争取晚上10点前入睡，以比</tspan><tspan x="2106" dy="21.7">夏天增加1小时睡眠为好，并保证早睡早起。</tspan><tspan x="2106" dy="21.7">另外，适当午睡也利于化解秋乏。</tspan></text></g>
<g id="o-d5a"><rect class="ob" x="2131" y="2741" width="356" height="105.8" rx="8"/><text class="t ot" x="2140" y="2767.4"><tspan x="2140">不管哪个季节，坚持运动绝对是没错的。入秋</tspan><tspan x="2140" dy="21.7">之后锻炼的好处在于，在逐渐降低温度的环境</tspan><tspan x="2140" dy="21.7">中，经过一定时间的锻炼，能促进身体的物质</tspan><tspan x="2140" dy="21.7">代谢，增加产热，提高对低温的适应力。</tspan></text></g>
<g id="o-d5b"><rect class="ob" x="2131" y="2881" width="356" height="192.6" rx="8"/><text class="t ot" x="2140" y="2907.4"><tspan x="2140">但对于不同的季节，运动的类型和强度也应该</tspan><tspan x="2140" dy="21.7">有所调整，秋季的运动可选择快走、登山、打</tspan><tspan x="2140" dy="21.7">球等，对于老年人来说，运动要以"不累"为标</tspan><tspan x="2140" dy="21.7">准。做一些既可促进血液循环、加快新陈代谢</tspan><tspan x="2140" dy="21.7">，又可使老年人一天保持良好的精气神。体育</tspan><tspan x="2140" dy="21.7">运动的时间适合选在早晚，中午由于室外天气</tspan><tspan x="2140" dy="21.7">仍然炎热，因此要避免这个时间段的户外活动</tspan><tspan x="2140" dy="21.7">。</tspan></text></g>
<g id="o-d5c"><rect class="ob" x="2131" y="3108" width="356" height="149.2" rx="8"/><text class="t ot" x="2140" y="3134.4"><tspan x="2140">冷水浴锻炼必须采取循序渐进的方法，如秋天</tspan><tspan x="2140" dy="21.7">气温逐渐降低，人体对寒冷和冷水也逐渐适应</tspan><tspan x="2140" dy="21.7">，一直坚持，到了深秋和冬季，洗冷水浴也不</tspan><tspan x="2140" dy="21.7">感觉太冷。冷水浴时应循序渐进，包括洗浴部</tspan><tspan x="2140" dy="21.7">位由局部到全身，水温由高到低以及洗浴时间</tspan><tspan x="2140" dy="21.7">由短到长。</tspan></text></g>
<g id="o-d6a"><rect class="ob" x="2114" y="3293" width="355" height="105.8" rx="8"/><text class="t ot" x="2123" y="3319.4"><tspan x="2123">白天只要室温不高不宜开空调。秋季养生注意</tspan><tspan x="2123" dy="21.7">事项中指出，秋季尽量多开窗，使空气流动，</tspan><tspan x="2123" dy="21.7">让秋杀之气荡涤暑期热潮留在房内的湿浊之气</tspan><tspan x="2123" dy="21.7">。</tspan></text></g>
<g id="o-d6b"><rect class="ob" x="2114" y="3433" width="355" height="84.1" rx="8"/><text class="t ot" x="2123" y="3459.4"><tspan x="2123">室内养些植物，如盆栽柑橘、吊兰、斑马叶橡</tspan><tspan x="2123" dy="21.7">皮树、文竹等绿色植物，可以调节室内空气，</tspan><tspan x="2123" dy="21.7">增加氧含量。</tspan></text></g>
<g id="o-d6c"><rect class="ob" x="2114" y="3552" width="355" height="84.1" rx="8"/><text class="t ot" x="2123" y="3578.4"><tspan x="2123">绿萝这类叶大且喜水的植物也可以养在卧室内</tspan><tspan x="2123" dy="21.7">，使空气湿度保持在佳状态。客厅适宜养植常</tspan><tspan x="2123" dy="21.7">春藤、无花果、猪笼草等。</tspan></text></g>
</g>
</svg>
